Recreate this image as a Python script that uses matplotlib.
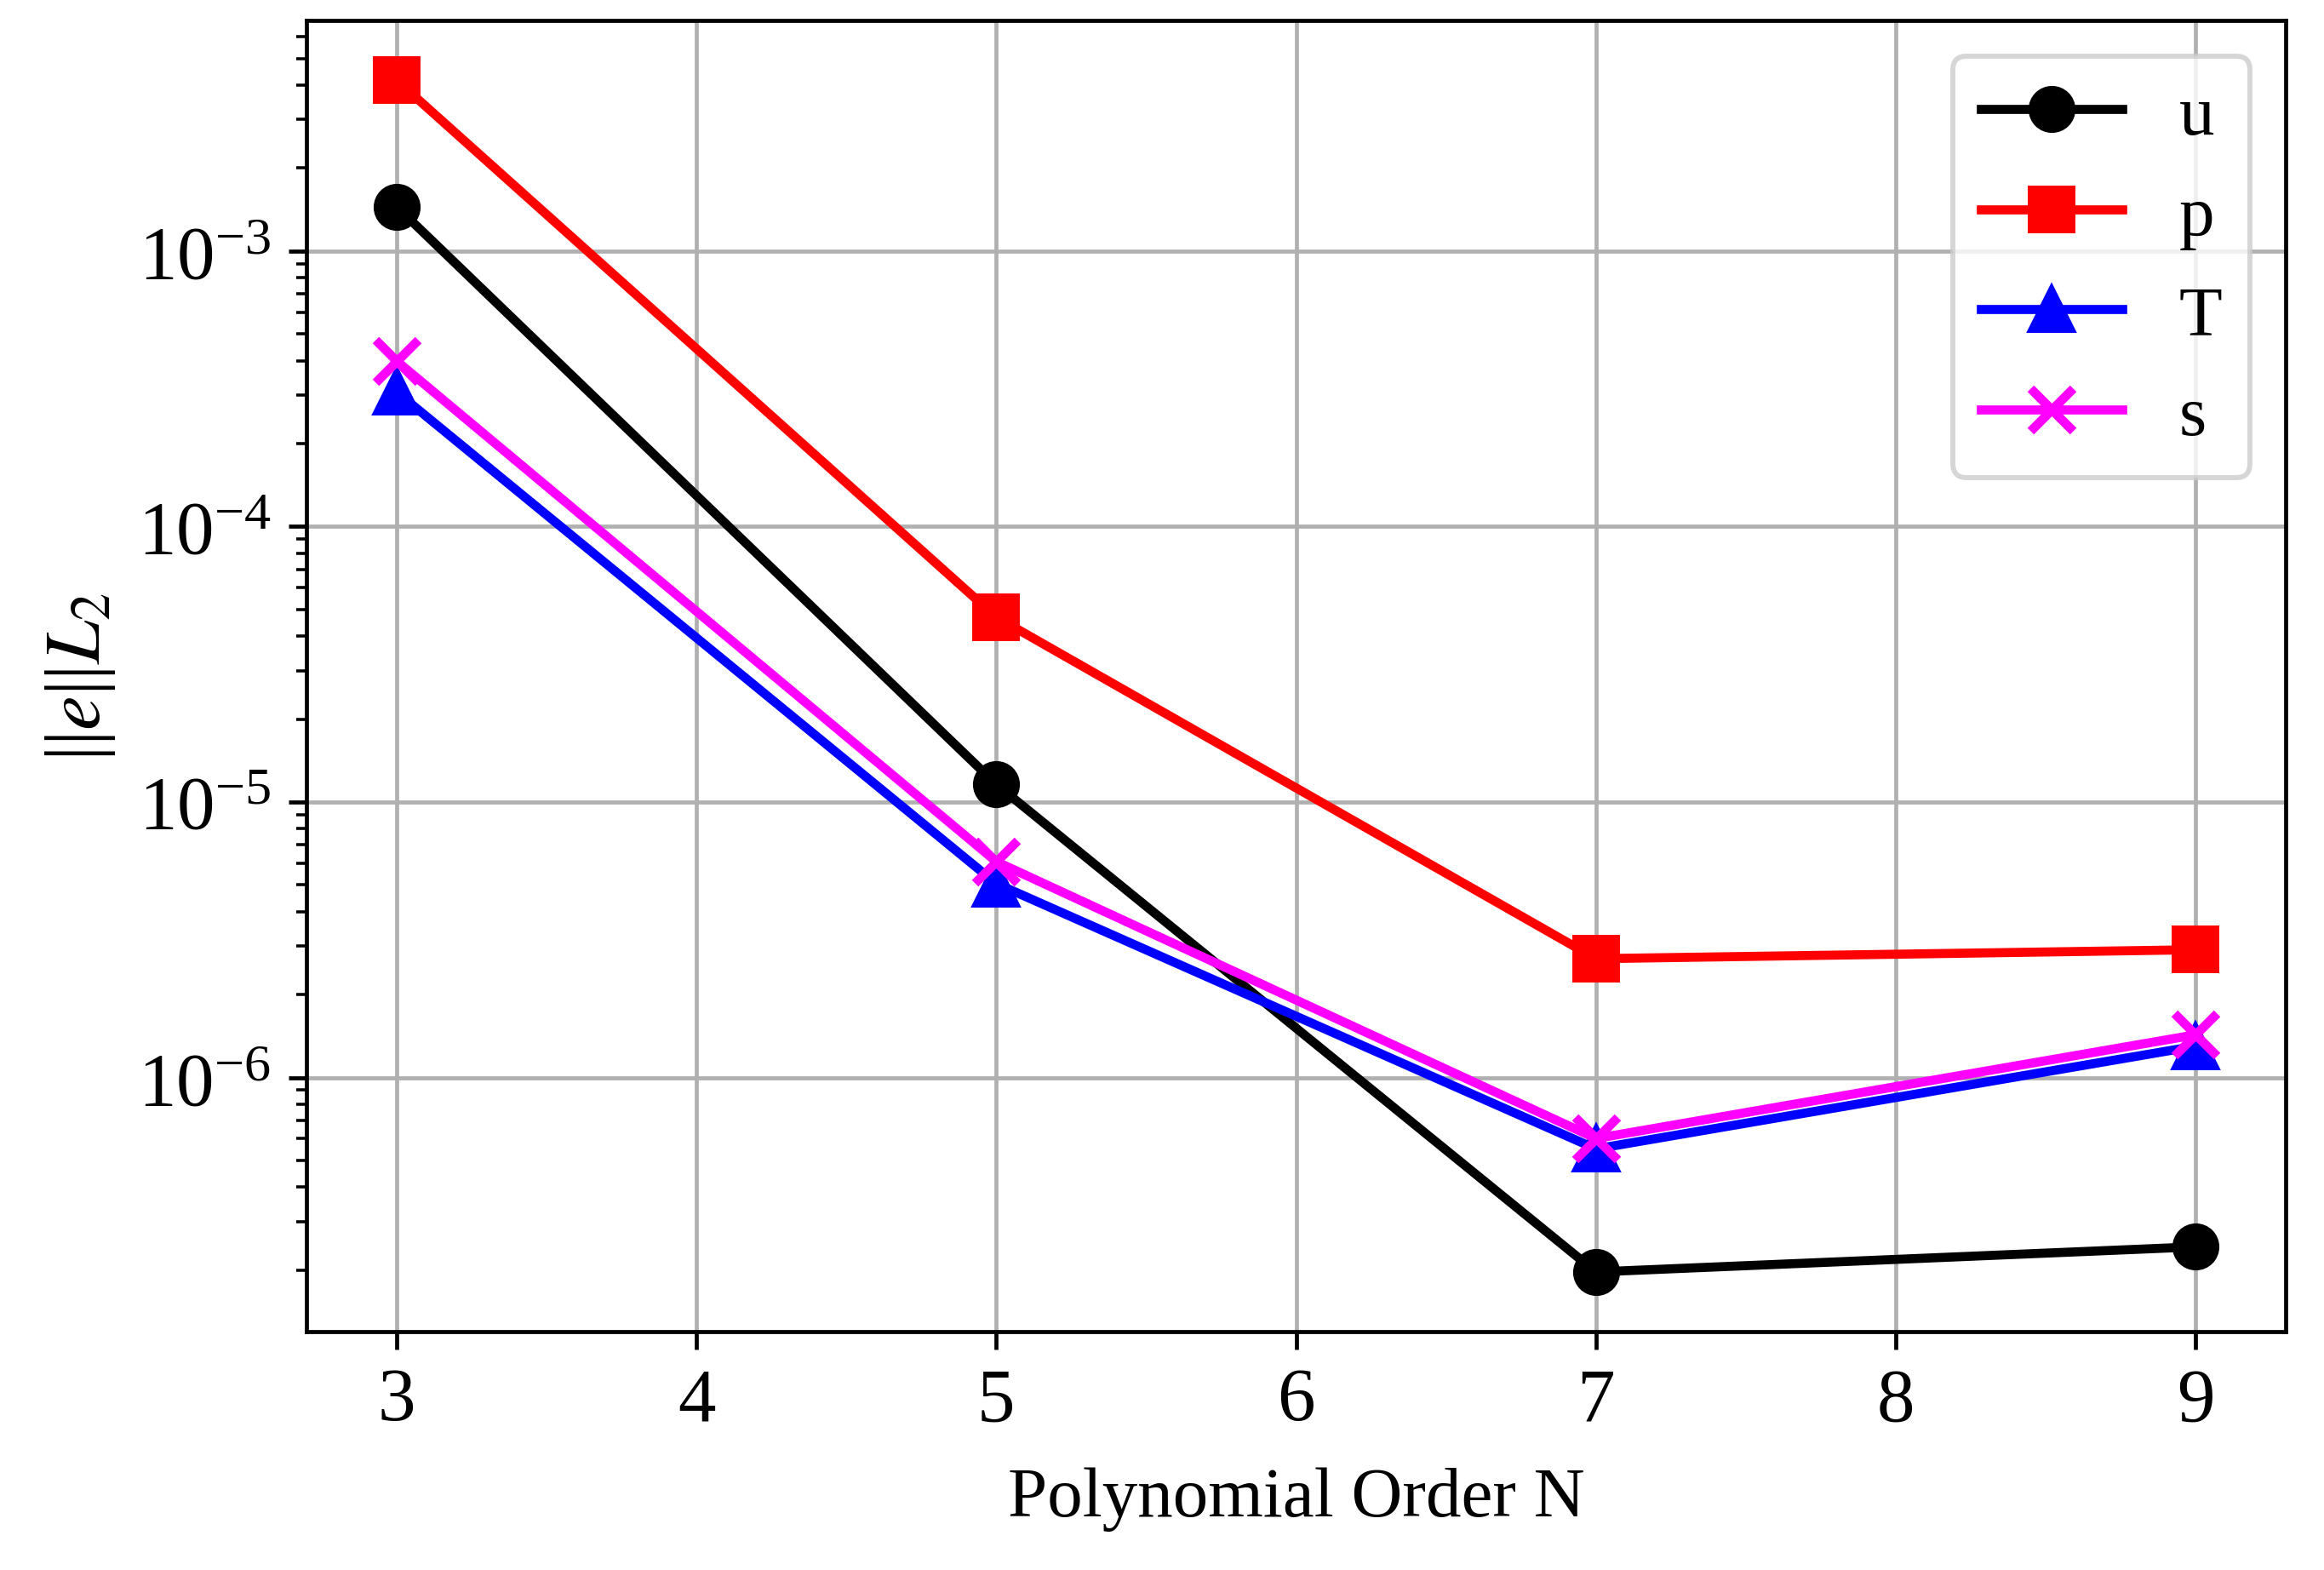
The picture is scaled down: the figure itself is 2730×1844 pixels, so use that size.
import numpy as np
import matplotlib
matplotlib.use('Agg')
import matplotlib.pyplot as plt

plt.rcParams['font.family'] = 'serif'
plt.rcParams['font.serif'] = ['Liberation Serif', 'DejaVu Serif']
plt.rcParams['mathtext.fontset'] = 'stix'
plt.rcParams['font.size'] = 14

# DATA
N = [3, 5, 7, 9]
err_u = [1.45e-3, 1.16e-5, 1.97e-7, 2.43e-7]
err_p = [4.17e-3, 4.69e-5, 2.70e-6, 2.91e-6]
err_T = [3.08e-4, 5.06e-6, 5.51e-7, 1.30e-6]
err_s = [3.99e-4, 6.08e-6, 6.01e-7, 1.43e-6]

fig = plt.figure(figsize=(2730 / 427, 1845 / 427))
plt.subplots_adjust(left=0.1319, right=0.9835, bottom=0.1518, top=0.9864)
ax = plt.gca()

lw = 1.8
ms = 8.3
ax.semilogy(N, err_u, '-o', color='black', lw=lw, markersize=ms, label='u')
ax.semilogy(N, err_p, '-s', color='red', lw=lw, markersize=ms, label='p')
ax.semilogy(N, err_T, '-^', color='blue', lw=lw, markersize=ms, label='T')
ax.semilogy(N, err_s, '-x', color='magenta', lw=lw, markersize=ms,
            markeredgewidth=1.8, label='s')

ax.grid(True)
ax.set_xlabel('Polynomial Order N', fontsize=14, labelpad=6)
ax.set_ylabel(r'||$e$||$L_2$', fontsize=15.5)
ax.tick_params(labelsize=15)
ax.legend(loc='upper right', fontsize=14)

fig.savefig('out.png', dpi=427)
